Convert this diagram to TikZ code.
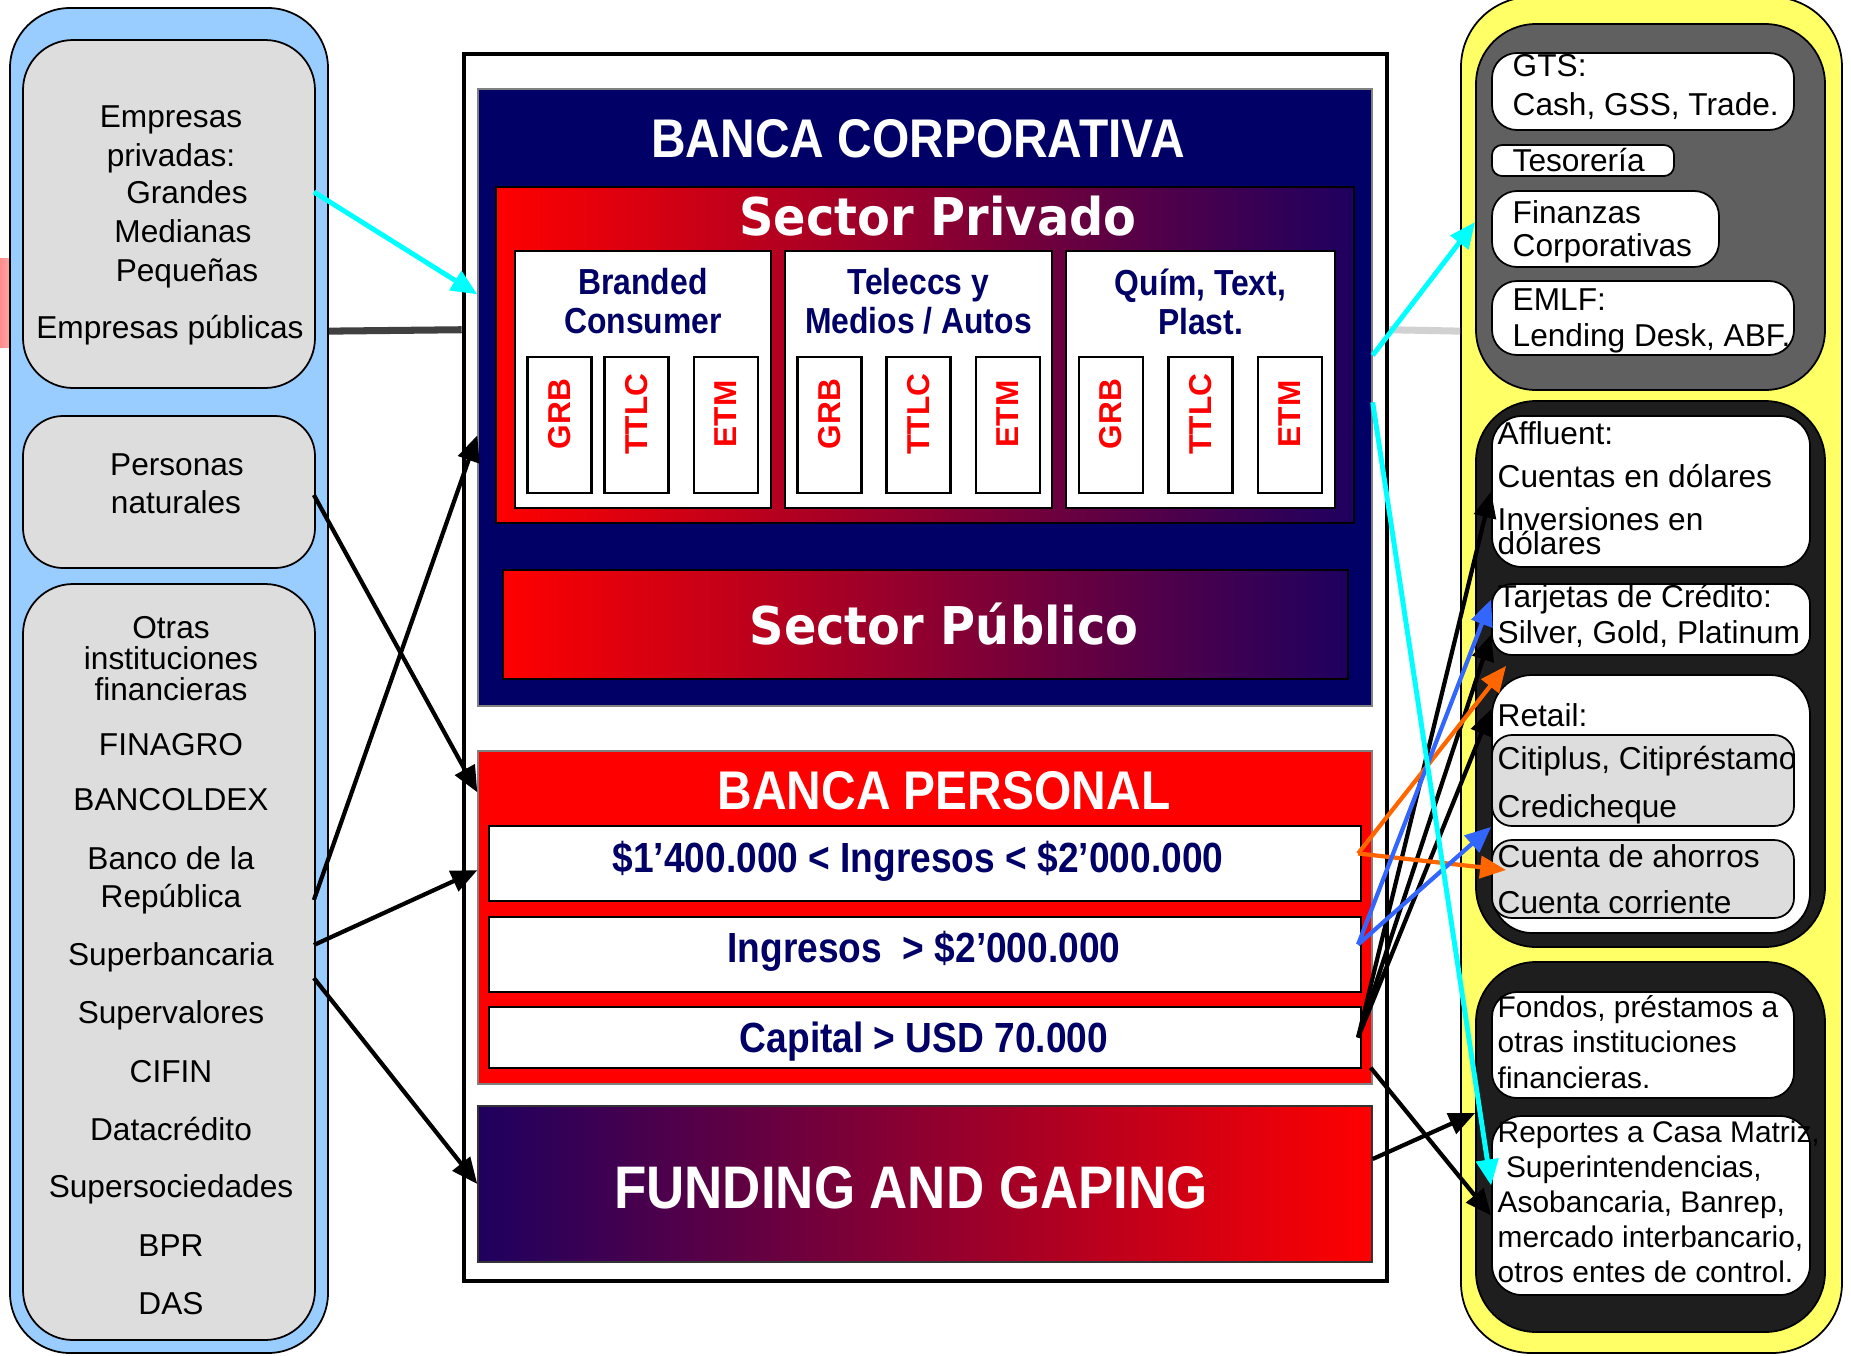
\documentclass[tikz,border=0pt]{standalone}
\usepackage{fontspec}
\setmainfont{Liberation Sans}
\newfontfamily\narrowsf[FakeStretch=0.88]{Liberation Sans}
\newfontfamily\sectorsf[FakeStretch=0.92]{DejaVu Sans}
\usetikzlibrary{calc,arrows.meta}
\definecolor{navy}{RGB}{0,0,102}
\definecolor{banred}{RGB}{255,0,0}
\definecolor{deepnavy}{RGB}{30,0,95}
\definecolor{skyfill}{RGB}{153,204,255}
\definecolor{lightgrey}{RGB}{221,221,221}
\definecolor{paleyellow}{RGB}{255,255,102}
\definecolor{midgrey}{RGB}{96,96,96}
\definecolor{nearblack}{RGB}{30,30,30}
\definecolor{aqua}{RGB}{0,255,255}
\definecolor{orangeline}{RGB}{255,102,0}
\definecolor{blueline}{RGB}{51,102,255}
\newcommand{\fs}[2]{\fontsize{#1}{#2}\selectfont}

\begin{document}
\begin{tikzpicture}[x=0.1mm,y=-0.1mm]
    \tikzset{%
      panel/.style={draw=black, line width=0.5pt, rounded corners=5mm},
      card/.style={draw=black, line width=0.5pt, fill=white, rounded corners=2.5mm},
      plain/.style={draw=black, line width=0.6pt, fill=white},
      leftlbl/.style={font=\fs{9}{11}, inner sep=0pt, text height=6.5pt, text depth=0pt},
      rightlbl/.style={font=\fs{9}{11}, anchor=west, align=left, inner sep=0pt},
      seg/.style={plain, minimum width=6.4mm, minimum height=13.6mm, inner sep=0pt,
        text=banred, font=\fs{9}{11}\bfseries},
      head/.style={text=navy, font=\narrowsf\bfseries\fs{10.3}{11.1}, align=center},
      bartxt/.style={text=navy, font=\narrowsf\bfseries\fs{12}{14}},
      title/.style={text=white, font=\narrowsf\bfseries\fs{15.5}{18}},
      sector/.style={text=white, font=\sectorsf\bfseries\fs{14.8}{17}},
      link/.style={line width=1.2pt, -{Triangle[length=2.6mm,width=2.2mm]}},
    }
    \useasboundingbox (0,0) rectangle (1851,1355);

    % clients
    \fill[left color=banred!45, right color=banred!15] (0,258) rectangle (30,347);
    \node[panel, fill=skyfill, rounded corners=6mm, minimum width=31.8mm, minimum height=134.5mm] (clients) at (169,680.5) {};
    \node[panel, fill=lightgrey, minimum width=29.2mm, minimum height=34.8mm] (emp) at (169,214) {};
    \node[panel, fill=lightgrey, rounded corners=4mm, minimum width=29.2mm, minimum height=15.2mm] (pers) at (169,492) {};
    \node[panel, fill=lightgrey, minimum width=29.2mm, minimum height=75.6mm] (inst) at (169,962) {};
    \foreach \lx/\ly/\ltxt [count=\i] in {171/116/Empresas, 171/155/privadas:, 187/192/Grandes,
        183/231/Medianas, 187/270/Pequeñas, 170/327/Empresas públicas, 177/464/Personas,
        176/502/naturales, 171/627/Otras, 171/658/instituciones, 171/689/financieras,
        171/744/FINAGRO, 171/799/BANCOLDEX, 171/858/Banco de la, 171/896/República,
        171/954/Superbancaria, 171/1012/Supervalores, 171/1071/CIFIN, 171/1129/Datacrédito,
        171/1186/Supersociedades, 171/1245/BPR, 171/1303/DAS}
      \node[leftlbl] (lbl\i) at (\lx,\ly) {\ltxt};

    % bank
    \node[draw=black, line width=1.3pt, minimum width=92.3mm, minimum height=122.7mm] (frame) at (925.5,667.5) {};
    \node[draw=gray, fill=navy, minimum width=89.4mm, minimum height=61.7mm] (bcorp) at (925,397.5) {};
    \node[title] (bcorpT) at (918,139) {BANCA CORPORATIVA};
    \node[draw=black, left color=banred, right color=deepnavy, minimum width=85.8mm, minimum height=33.6mm] (priv) at (925,355) {};
    \node[sector] (privT) at (938,216) {Sector Privado};
    \node[plain, minimum width=25.6mm, minimum height=25.7mm] (colA) at (643,379.5) {};
    \node[plain, minimum width=26.7mm, minimum height=25.7mm] (colB) at (918.5,379.5) {};
    \node[plain, minimum width=26.9mm, minimum height=25.7mm] (colC) at (1200.5,379.5) {};
    \node[head] (colAT) at (643,301.5) {Branded\\Consumer};
    \node[head] (colBT) at (918.5,301.5) {Teleccs y\\Medios / Autos};
    \node[head] (colCT) at (1200.5,301.5) {Quím, Text,\\Plast.};
    \foreach \sx/\stxt [count=\i] in {559.5/GRB, 636.5/TTLC, 726/ETM, 829.5/GRB, 918.5/TTLC,
        1008/ETM, 1111/GRB, 1200.5/TTLC, 1290/ETM}
      \node[seg] (seg\i) at (\sx,425) {\raisebox{2.2mm}{\rotatebox{90}{\stxt}}};
    \node[draw=black, left color=banred, right color=deepnavy, minimum width=84.5mm, minimum height=10.9mm] (pub) at (925.5,624.5) {};
    \node[sector] (pubT) at (944,624) {Sector Público};

    \node[draw=gray, fill=banred, minimum width=89.4mm, minimum height=33.3mm] (bpers) at (925,917.5) {};
    \node[title] (bpersT) at (944,791) {BANCA PERSONAL};
    \node[plain, minimum width=87.2mm, minimum height=7.5mm] (barA) at (925,863.5) {};
    \node[plain, minimum width=87.2mm, minimum height=7.5mm] (barB) at (925,954.5) {};
    \node[plain, minimum width=87.2mm, minimum height=6.1mm] (barC) at (925,1037.5) {};
    \node[bartxt] (barAT) at (918,861) {\$1’400.000 < Ingresos < \$2’000.000};
    \node[bartxt] (barBT) at (924,951) {Ingresos\ \ > \$2’000.000};
    \node[bartxt] (barCT) at (924,1042) {Capital > USD 70.000};

    \node[draw=black!80, left color=deepnavy, right color=banred, minimum width=89.4mm, minimum height=15.6mm] (fund) at (925,1184) {};
    \node[title, font=\narrowsf\bfseries\fs{17.1}{20}] (fundT) at (911,1188) {FUNDING AND GAPING};

    % products
    \node[panel, fill=paleyellow, rounded corners=7mm, minimum width=38.1mm, minimum height=135.6mm] (prod) at (1651.5,675) {};
    \node[panel, fill=midgrey, rounded corners=6mm, minimum width=34.9mm, minimum height=36.6mm] (corpgrp) at (1650.5,207) {};
    \node[card, minimum width=30.2mm, minimum height=7.7mm] (gts) at (1643,91.5) {};
    \node[card, rounded corners=1mm, minimum width=18.2mm, minimum height=3.1mm] (teso) at (1583,160.5) {};
    \node[card, minimum width=22.7mm, minimum height=7.6mm] (fin) at (1605.5,229) {};
    \node[card, minimum width=30.2mm, minimum height=7.4mm] (emlf) at (1643,318) {};
    \node[rightlbl, font=\fs{9}{11.1}] (gtsT) at (1512,86.5) {GTS:\\Cash, GSS, Trade.};
    \node[rightlbl] (tesoT) at (1512,160) {Tesorería};
    \node[rightlbl, font=\fs{9}{9.4}] (finT) at (1512,231.5) {Finanzas\\Corporativas};
    \node[rightlbl, font=\fs{9}{10.2}] (emlfT) at (1512,321) {EMLF:\\Lending Desk, ABF.};

    \node[panel, fill=nearblack, rounded corners=6mm, minimum width=34.9mm, minimum height=54.6mm] (persgrp) at (1650.5,674) {};
    \node[card, rounded corners=3mm, minimum width=31.8mm, minimum height=15.1mm] (aff) at (1651,491.5) {};
    \node[card, rounded corners=2mm, minimum width=31.8mm, minimum height=7.1mm] (tarj) at (1651,619.5) {};
    \node[card, rounded corners=4mm, minimum width=31.8mm, minimum height=25.8mm] (retail) at (1651,804) {};
    \node[card, fill=lightgrey, rounded corners=2mm, minimum width=30.2mm, minimum height=9.1mm] (loans) at (1643,780.5) {};
    \node[card, fill=lightgrey, rounded corners=2mm, minimum width=30.2mm, minimum height=7.8mm] (accts) at (1643,879) {};
    \node[rightlbl, font=\fs{9}{12.2}] (affT) at (1497,488) {Affluent:\\Cuentas en dólares\\Inversiones en\\[-5.4pt]dólares};
    \node[rightlbl, font=\fs{9}{10.2}] (tarjT) at (1497,616) {Tarjetas de Crédito:\\Silver, Gold, Platinum};
    \node[rightlbl] (retailT) at (1497,715) {Retail:};
    \node[rightlbl, font=\fs{9}{13.6}] (loansT) at (1497,785) {Citiplus, Citipréstamo\\Credicheque};
    \node[rightlbl, font=\fs{9}{13}] (acctsT) at (1497,879) {Cuenta de ahorros\\Cuenta corriente};

    \node[panel, fill=nearblack, rounded corners=6mm, minimum width=34.9mm, minimum height=37mm] (instgrp) at (1650.5,1147) {};
    \node[card, minimum width=30.2mm, minimum height=10.6mm] (fondos) at (1643,1045) {};
    \node[card, rounded corners=3mm, minimum width=31.8mm, minimum height=17.9mm] (report) at (1651,1205.5) {};
    \node[rightlbl, font=\fs{8.5}{10}] (fondosT) at (1497,1042) {Fondos, préstamos a\\otras instituciones\\financieras.};
    \node[rightlbl, font=\fs{8.5}{10}] (reportT) at (1497,1202) {Reportes a Casa Matriz,\\\ Superintendencias,\\Asobancaria, Banrep,\\mercado interbancario,\\otros entes de control.};

    % connectors
    \draw[line width=2pt, black!75] ($(clients.north east)+(0,324)$) -- ($(frame.north west)+(0,278)$);
    \draw[line width=2pt, black!18] ($(frame.north east)+(0,278)$) -- ($(prod.north west)+(0,335)$);
    \draw[link] ($(pers.east)+(-2,3)$) -- ($(bpers.north west)+(0,42)$);
    \draw[link] ($(inst.east)+(-2,-62)$) -- ($(bcorp.north west)+(0,347)$);
    \draw[link] ($(inst.east)+(-2,-17)$) -- ($(bpers.north west)+(0,120)$);
    \draw[link] ($(inst.east)+(-2,16)$) -- (fund.west);
    \draw[link] ($(barC.east)+(-4,0)$) -- (aff.west);
    \draw[link] ($(barC.east)+(-4,0)$) -- ($(tarj.west)+(0,15)$);
    \draw[link] ($(barC.east)+(-4,0)$) -- ($(retail.north west)+(0,35)$);
    \draw[link] ($(bpers.south east)+(-2,-17)$) -- ($(report.west)+(0,10)$);
    \draw[link] ($(fund.east)+(0,-25)$) -- ($(instgrp.west)+(0,-34)$);
    \draw[link, draw=orangeline] ($(barA.east)+(-4,-10)$) -- ($(tarj.south west)+(15,10)$);
    \draw[link, draw=orangeline] ($(barA.east)+(-4,-10)$) -- ($(accts.west)+(15,-9)$);
    \draw[link, draw=blueline] ($(barB.east)+(-4,-10)$) -- ($(tarj.west)+(0,-20)$);
    \draw[link, draw=blueline] ($(barB.east)+(-4,-10)$) -- (loans.south west);
    \draw[link, draw=aqua, line width=1.4pt] ($(emp.east)+(-2,-22)$) -- ($(bcorp.north west)+(0,206)$);
    \draw[link, draw=aqua, line width=1.4pt] ($(bcorp.north east)+(0,267)$) -- ($(corpgrp.west)+(0,15)$);
    \draw[link, draw=aqua, line width=1.4pt] ($(bcorp.north east)+(0,314)$) -- ($(report.west)+(0,-20)$);
\end{tikzpicture}
\end{document}
